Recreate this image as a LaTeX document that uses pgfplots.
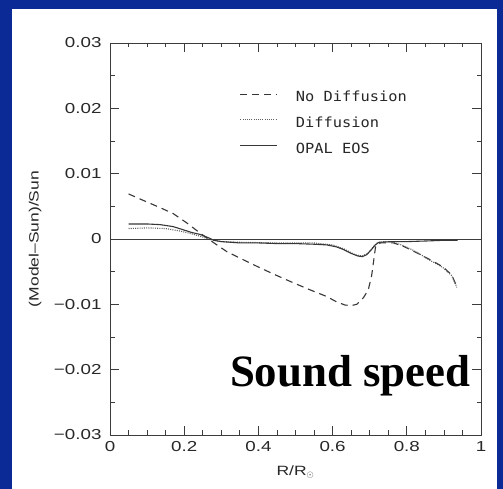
\documentclass[border=0pt]{standalone}
\usepackage{pgfplots}
\pgfplotsset{compat=1.18}
\usepackage{fontspec}
\setmainfont{Liberation Sans}
\newfontfamily\tickfont{Liberation Sans}[FakeStretch=1.3]
\newfontfamily\legfont{DejaVu Sans Mono}[FakeStretch=1.1]
\newfontfamily\serifbf{Liberation Serif}
\definecolor{bgblue}{RGB}{12,42,150}
\definecolor{ink}{RGB}{60,60,60}
\definecolor{txt}{RGB}{40,40,40}
\definecolor{curve}{RGB}{55,55,55}

\pgfplotstableread{
x y
0.05 0.0069
0.09 0.0059
0.135 0.0048
0.17 0.0039
0.206 0.0025
0.243 0.0009
0.27 -0.0002
0.314 -0.0019
0.36 -0.0032
0.404 -0.0044
0.45 -0.0056
0.494 -0.0067
0.54 -0.0078
0.584 -0.0088
0.61 -0.0096
0.633 -0.0101
0.65 -0.0102
0.665 -0.0100
0.683 -0.0090
0.696 -0.0078
0.705 -0.0057
0.711 -0.0032
0.716 -0.0011
0.722 -0.0007
0.73 -0.0006
0.764 -0.0006
0.79 -0.0011
0.809 -0.0016
0.83 -0.0022
0.854 -0.0029
0.88 -0.0037
0.898 -0.0043
0.921 -0.0055
0.935 -0.0073
}\nodiff

\pgfplotstableread{
x y
0.05 0.0016
0.10 0.0017
0.15 0.0016
0.19 0.0012
0.22 0.0008
0.25 0.0003
0.27 -0.0001
0.30 -0.0004
0.35 -0.0005
0.45 -0.0006
0.55 -0.0006
0.60 -0.0009
0.63 -0.0015
0.66 -0.0024
0.68 -0.0026
0.695 -0.0022
0.71 -0.0012
0.72 -0.0006
0.74 -0.0004
0.764 -0.0005
0.79 -0.0010
0.809 -0.0015
0.83 -0.0021
0.854 -0.0030
0.88 -0.0038
0.898 -0.0044
0.921 -0.0056
0.935 -0.0074
}\diff

\pgfplotstableread{
x y
0.05 0.0023
0.10 0.0023
0.135 0.0022
0.17 0.0019
0.198 0.0014
0.22 0.0010
0.243 0.0007
0.265 0.0002
0.28 -0.0002
0.30 -0.0004
0.35 -0.0006
0.40 -0.0006
0.45 -0.0007
0.50 -0.0007
0.55 -0.0008
0.584 -0.0009
0.61 -0.0012
0.629 -0.0016
0.65 -0.0022
0.668 -0.0026
0.68 -0.0027
0.692 -0.0024
0.705 -0.0016
0.715 -0.0009
0.725 -0.0005
0.76 -0.0004
0.80 -0.0004
0.854 -0.0003
0.90 -0.0002
0.937 -0.0002
}\opal

\begin{document}
\begin{tikzpicture}
\fill[bgblue] (0bp,0bp) rectangle (503bp,489bp);
\fill[white] (12bp,0bp) rectangle (497bp,480bp);
\path[use as bounding box] (0bp,0bp) rectangle (503bp,489bp);
\begin{axis}[
  at={(110bp,54bp)}, anchor=south west,
  scale only axis, width=371bp, height=392bp,
  xmin=0, xmax=1, ymin=-0.03, ymax=0.03,
  scaled y ticks=false, scaled x ticks=false,
  xtick={0,0.2,0.4,0.6,0.8,1},
  xticklabels={0,0.2,0.4,0.6,0.8,1},
  minor x tick num=3,
  ytick={-0.03,-0.02,-0.01,0,0.01,0.02,0.03},
  yticklabels={−0.03,−0.02,−0.01,0,0.01,0.02,0.03},
  minor y tick num=1,
  tick align=inside, tick pos=both,
  major tick length=9bp, minor tick length=4.5bp,
  axis line style={ink, line width=0.9bp},
  every tick/.style={ink, line width=0.8bp},
  tick label style={font=\tickfont\fontsize{14.5}{14.5}\selectfont, text=txt},
  yticklabel style={xshift=-5bp},
  xticklabel style={yshift=-3bp},
  xlabel={R/R$_\odot$},
  ylabel={(Model–Sun)/Sun},
  every axis x label/.style={at={(axis description cs:0.5,0)}, anchor=base, yshift=-40bp,
    font=\tickfont\fontsize{13.5}{13.5}\selectfont, text=txt},
  every axis y label/.style={at={(axis description cs:-0.202,0.5)}, anchor=center, rotate=90,
    font=\tickfont\fontsize{13.5}{13.5}\selectfont, text=txt},
  legend style={at={(axis cs:0.350,0.02255)}, anchor=north west, draw=none, fill=none,
    inner sep=0pt, outer sep=0pt, font=\legfont\fontsize{14}{14}\selectfont, text=txt,
    row sep=12.7bp, nodes={inner sep=0pt, text height=10bp, text depth=3bp},
    /tikz/every odd column/.append style={column sep=18bp}},
  legend cell align=left,
  legend image code/.code={\draw[#1] (0bp,4bp) -- (37bp,4bp);},
]
\addplot[curve, line width=1.1bp, dash pattern=on 7bp off 5bp] table {\nodiff};
\addlegendentry{No Diffusion}
\addplot[curve!80, line width=1.1bp, dash pattern=on 1bp off 1.2bp] table {\diff};
\addlegendentry{Diffusion}
\addplot[curve, line width=1.1bp] table {\opal};
\addlegendentry{OPAL EOS}
\addplot[ink, line width=0.9bp, forget plot] coordinates {(0,0) (1,0)};
\node[anchor=base west, inner sep=0pt, font=\serifbf\bfseries\fontsize{45}{45}\selectfont] at (axis cs:0.323,-0.0226) {Sound speed};
\end{axis}
\end{tikzpicture}
\end{document}
